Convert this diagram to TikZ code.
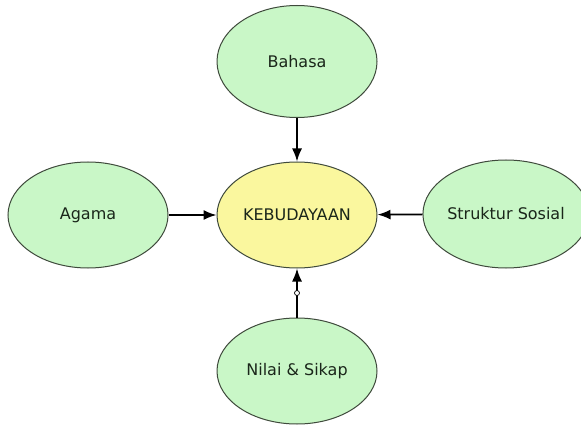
\documentclass[tikz,border=0pt]{standalone}
\usepackage{fontspec}
\setmainfont{DejaVu Sans}
\usetikzlibrary{shapes.geometric,arrows.meta}
\definecolor{leaf}{HTML}{C9F7C7}
\definecolor{sun}{HTML}{FAF79E}
\definecolor{rim}{HTML}{3F4A3C}
\definecolor{ink}{HTML}{1A261A}
\tikzset{
  bubble/.style={ellipse, draw=rim, line width=1pt, fill=leaf, minimum width=160pt, minimum height=106pt, inner sep=0pt, text=ink, font=\fontsize{16}{19}\selectfont},
  core/.style={bubble, fill=sun},
  link/.style={line width=1.7pt, -{Latex[length=13pt,width=10pt]}},
  knob/.style={circle, draw=black, fill=white, line width=0.7pt, minimum size=5pt, inner sep=0pt}
}
\begin{document}
\begin{tikzpicture}[x=1pt,y=-1pt]
\useasboundingbox (0,0) rectangle (581,425);
\fill[white] (0,0) rectangle (581,425);
\node[core] (keb) at (297,215) {KEBUDAYAAN};
\node[bubble, minimum height=112pt] (bahasa) at (297,61.5) {Bahasa};
\node[bubble] (agama) at (88,215) {Agama};
\node[bubble, minimum width=148pt, minimum height=108pt] (sosial) at (506,214) {Struktur Sosial};
\node[bubble] (nilai) at (297,371) {Nilai \& Sikap};
\draw[link] (bahasa) -- (keb);
\draw[link] (agama) -- (keb);
\draw[link] (sosial) -- (keb);
\draw[link] (nilai) -- (keb);
\node[knob] (ring) at (297,293) {};
\end{tikzpicture}
\end{document}
